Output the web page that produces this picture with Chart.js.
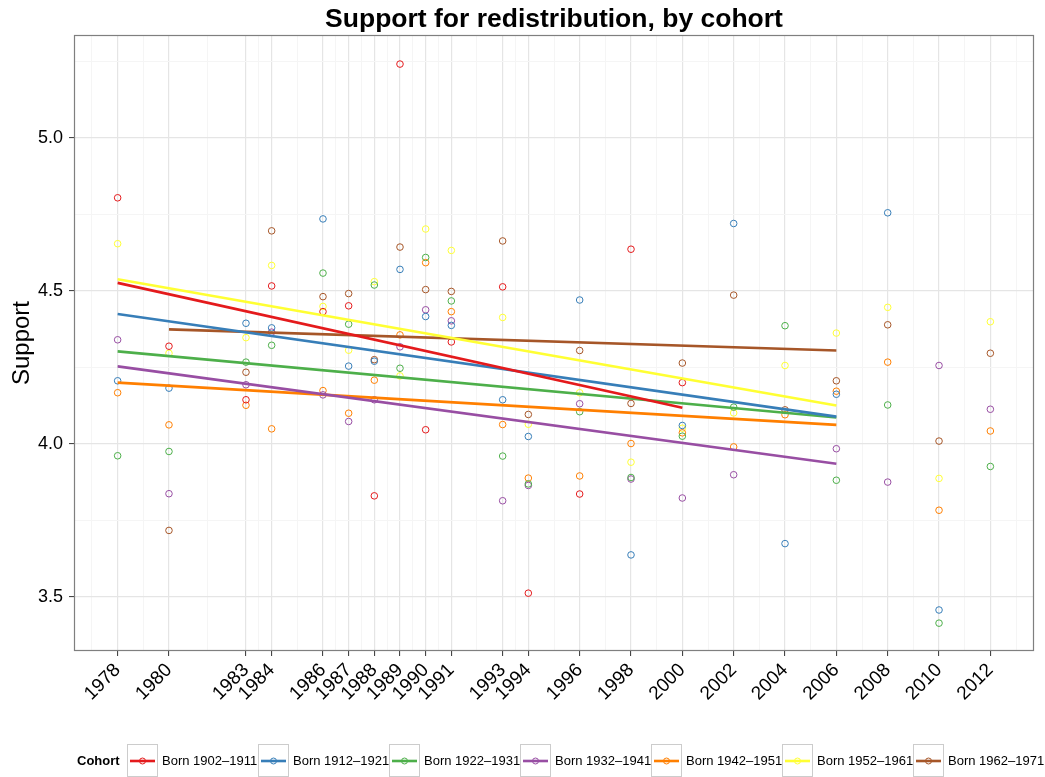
<!DOCTYPE html>
<html>
<head>
<meta charset="utf-8">
<title>Support for redistribution, by cohort</title>
<script src="https://cdn.jsdelivr.net/npm/chart.js@4.4.0/dist/chart.umd.min.js"></script>
<style>
    body { margin: 0; background: #fff; font-family: "Liberation Sans", Arial, sans-serif; }
    #wrap { position: relative; width: 1045px; height: 777px; overflow: hidden; }
    #legend { position: absolute; left: 0; top: 744px; width: 1045px; height: 33px; }
    .lg-title { position: absolute; left: 77px; top: 9px; font-weight: bold; font-size: 13px; color: #000; }
    .lg-key { position: absolute; top: 0; width: 31px; height: 33px; border: 1px solid #cccccc; background: #fff; box-sizing: border-box; }
    .lg-key svg { display: block; }
    .lg-label { position: absolute; top: 9px; font-size: 13px; white-space: nowrap; color: #000; }
</style>
</head>
<body>
<div id="wrap">
    <canvas id="chart" width="1045" height="777"></canvas>
    <div id="legend"></div>
</div>
<script>
// survey years (also the x tick labels)
const years = [1978, 1980, 1983, 1984, 1986, 1987, 1988, 1989, 1990, 1991, 1993, 1994, 1996, 1998, 2000, 2002, 2004, 2006, 2008, 2010, 2012];
const yTicks = [3.5, 4.0, 4.5, 5.0];

const cohortLabels = ['Born 1902\u20131911', 'Born 1912\u20131921', 'Born 1922\u20131931', 'Born 1932\u20131941', 'Born 1942\u20131951', 'Born 1952\u20131961', 'Born 1962\u20131971'];
const cohortColors = ['#E41A1C', '#377EB8', '#4DAF4A', '#984EA3', '#FF7F00', '#FFFF33', '#A65628'];

// mean support per survey year, one array per cohort (null = no point)
const born1902 = [4.804, 4.319, 4.144, 4.516, 4.432, 4.451, 3.830, 5.241, 4.046, 4.333, 4.513, 3.512, 3.836, 4.636, 4.200, null, null, null, null, null, null];
const born1912 = [4.206, 4.182, 4.394, 4.379, 4.735, 4.254, 4.270, 4.570, 4.416, 4.387, 4.144, 4.024, 4.470, 3.637, 4.060, 4.720, 3.674, 4.162, 4.755, 3.457, null];
const born1922 = [3.961, 3.975, 4.267, 4.322, 4.558, 4.391, 4.519, 4.247, 4.609, 4.467, 3.960, 3.869, 4.105, 3.890, 4.025, 4.120, 4.386, 3.881, 4.127, 3.414, 3.926];
const born1932 = [4.340, 3.837, 4.193, 4.365, 4.160, 4.073, 4.144, 4.317, 4.438, 4.402, 3.814, 3.864, 4.131, 3.885, 3.823, 3.899, null, 3.984, 3.875, 4.256, 4.113];
const born1942 = [4.167, 4.062, 4.126, 4.049, 4.174, 4.100, 4.208, 4.356, 4.592, 4.432, 4.063, 3.888, 3.895, 4.001, 4.036, 3.990, 4.095, 4.172, 4.267, 3.783, 4.042];
const born1952 = [4.654, 4.296, 4.347, 4.583, 4.449, 4.306, 4.530, 4.222, 4.702, 4.632, 4.413, 4.064, 4.167, 3.940, 4.051, 4.101, 4.256, 4.362, 4.446, 3.887, 4.399];
const born1962 = [null, 3.717, 4.234, 4.696, 4.481, 4.491, 4.275, 4.643, 4.504, 4.498, 4.663, 4.096, 4.305, 4.132, 4.264, 4.486, 4.111, 4.206, 4.389, 4.009, 4.296];
const series = [born1902, born1912, born1922, born1932, born1942, born1952, born1962];

// fitted linear trend per cohort
const trendFrom = [1978, 1978, 1978, 1978, 1978, 1978, 1980];
const trendTo = [2000, 2006, 2006, 2006, 2006, 2006, 2006];
const trendStart = [4.526, 4.424, 4.302, 4.253, 4.200, 4.538, 4.374];
const trendEnd = [4.118, 4.089, 4.086, 3.935, 4.062, 4.125, 4.305];

const FONT = '"Liberation Sans", Arial, sans-serif';

// minor breaks sit half way between major ones (ggplot style)
function withMinor(major, lo, hi) {
    const step0 = major[1] - major[0];
    const stepN = major[major.length - 1] - major[major.length - 2];
    const ext = [major[0] - step0].concat(major, [major[major.length - 1] + stepN]);
    const out = [];
    for (let i = 0; i < ext.length - 1; i++) {
        const mid = (ext[i] + ext[i + 1]) / 2;
        if (mid >= lo && mid <= hi) out.push(mid);
    }
    return out.concat(major).sort((a, b) => a - b);
}

const xMin = 1976.3, xMax = 2013.7;
const yMin = 3.323, yMax = 5.336;
const xMajor = new Set(years);
const yMajor = new Set(yTicks);

const datasets = [];
series.forEach((vals, i) => {
    datasets.push({
        label: cohortLabels[i],
        data: years.map((yr, j) => ({ x: yr, y: vals[j] })).filter(p => p.y !== null),
        showLine: false,
        pointRadius: 3.3,
        pointBorderWidth: 1,
        pointBorderColor: cohortColors[i],
        pointBackgroundColor: 'rgba(0,0,0,0)',
        order: 2
    });
});
series.forEach((vals, i) => {
    datasets.push({
        label: cohortLabels[i] + ' trend',
        data: [{ x: trendFrom[i], y: trendStart[i] }, { x: trendTo[i], y: trendEnd[i] }],
        showLine: true,
        borderColor: cohortColors[i],
        borderWidth: 2.6,
        pointRadius: 0,
        order: 1
    });
});

const panelDecor = {
    id: 'panelDecor',
    afterDatasetsDraw(chart) {
        const a = chart.chartArea;
        const ctx = chart.ctx;
        ctx.save();
        ctx.strokeStyle = '#7f7f7f';
        ctx.lineWidth = 1.2;
        ctx.strokeRect(a.left + 0.5, a.top + 0.5, a.right - a.left - 1, a.bottom - a.top - 1);
        ctx.restore();
    },
    afterDraw(chart) {
        const a = chart.chartArea;
        const ctx = chart.ctx;
        ctx.save();
        ctx.font = 'bold 26.5px ' + FONT;
        ctx.fillStyle = '#000';
        ctx.textAlign = 'center';
        ctx.textBaseline = 'middle';
        ctx.fillText('Support for redistribution, by cohort', (a.left + a.right) / 2, 20);
        ctx.restore();
    }
};

new Chart(document.getElementById('chart'), {
    type: 'scatter',
    data: { datasets: datasets },
    plugins: [panelDecor],
    options: {
        responsive: false,
        animation: false,
        devicePixelRatio: 1,
        layout: { padding: { top: 35, right: 11, left: 0, bottom: 0 } },
        plugins: {
            legend: { display: false },
            tooltip: { enabled: false },
            title: { display: false }
        },
        scales: {
            x: {
                type: 'linear',
                min: xMin,
                max: xMax,
                afterBuildTicks: scale => {
                    scale.ticks = withMinor(years, xMin, xMax).map(v => ({ value: v }));
                },
                afterFit: scale => { scale.height = 126; },
                ticks: {
                    autoSkip: false,
                    minRotation: 45,
                    maxRotation: 45,
                    padding: 3,
                    color: '#000',
                    font: { family: FONT, size: 19 },
                    callback: v => xMajor.has(v) ? String(v) : ''
                },
                grid: {
                    color: c => (c.tick && xMajor.has(c.tick.value)) ? '#e5e5e5' : '#f5f5f5',
                    lineWidth: c => (c.tick && xMajor.has(c.tick.value)) ? 1.2 : 1,
                    tickColor: c => (c.tick && xMajor.has(c.tick.value)) ? '#333' : 'rgba(0,0,0,0)',
                    tickLength: 5,
                    tickWidth: 1
                },
                border: { display: false }
            },
            y: {
                type: 'linear',
                min: yMin,
                max: yMax,
                afterBuildTicks: scale => {
                    scale.ticks = withMinor(yTicks, yMin, yMax).map(v => ({ value: v }));
                },
                afterFit: scale => { scale.width = 74; },
                title: {
                    display: true,
                    text: 'Support',
                    color: '#000',
                    font: { family: FONT, size: 24 },
                    padding: { top: 8, bottom: 0 }
                },
                ticks: {
                    autoSkip: false,
                    padding: 6,
                    color: '#000',
                    font: { family: FONT, size: 18 },
                    callback: v => yMajor.has(v) ? v.toFixed(1) : ''
                },
                grid: {
                    color: c => (c.tick && yMajor.has(c.tick.value)) ? '#e5e5e5' : '#f5f5f5',
                    lineWidth: c => (c.tick && yMajor.has(c.tick.value)) ? 1.2 : 1,
                    tickColor: c => (c.tick && yMajor.has(c.tick.value)) ? '#333' : 'rgba(0,0,0,0)',
                    tickLength: 5,
                    tickWidth: 1
                },
                border: { display: false }
            }
        }
    }
});

// legend below the panel
const legend = document.getElementById('legend');
const lgTitle = document.createElement('div');
lgTitle.className = 'lg-title';
lgTitle.textContent = 'Cohort';
legend.appendChild(lgTitle);

cohortLabels.forEach((label, i) => {
    const left = 127 + i * 131;
    const text = document.createElement('div');
    text.className = 'lg-label';
    text.style.left = (left + 35) + 'px';
    text.textContent = label;
    legend.appendChild(text);

    const key = document.createElement('div');
    key.className = 'lg-key';
    key.style.left = left + 'px';
    const c = cohortColors[i];
    key.innerHTML = '<svg width="29" height="31"><line x1="2" y1="16" x2="27" y2="16" stroke="' + c +
        '" stroke-width="2.6"/><circle cx="14.5" cy="16" r="3" fill="none" stroke="' + c + '" stroke-width="1"/></svg>';
    legend.appendChild(key);
});
</script>
</body>
</html>
